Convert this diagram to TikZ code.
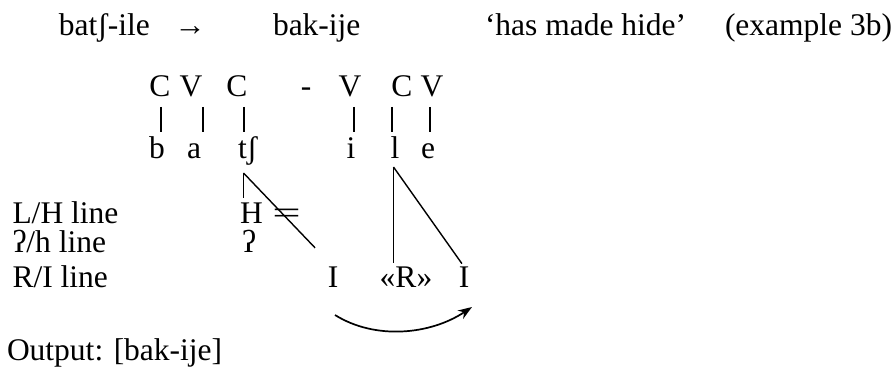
\documentclass[tikz,border=0pt]{standalone}
\usepackage{fontspec}
\setmainfont{Liberation Serif}
\usetikzlibrary{arrows.meta}
% association line hanging under a skeleton slot, shifted sideways by #3
\newcommand\assocline[3]{\draw[assoc] ([xshift=#3]#1.south) -- ([xshift=#3]#1.south |- #2.north);}
\begin{document}
\begin{tikzpicture}[x=0.5pt, y=-0.5pt,
  txt/.style={inner sep=0pt, outer sep=0pt, font=\fontsize{15.75pt}{18pt}\selectfont,
              text height=10.7pt, text depth=3.5pt},
  assoc/.style={line width=0.7pt, shorten <=1.5pt, shorten >=2.8pt},
  tierline/.style={line width=0.7pt},
  spread/.style={line width=0.85pt, -{Stealth[length=7pt, width=5pt]}}]
\useasboundingbox (0,0) rectangle (896,369);

% header line
\node[txt, anchor=base west] (src)   at (59,36)  {batʃ-ile};
\node[txt, anchor=base]      (arr)   at (190,36) {→};
\node[txt, anchor=base west] (res)   at (273,36) {bak-ije};
\node[txt, anchor=base west] (gloss) at (485,36) {‘has made hide’};
\node[txt, anchor=base west] (ex)    at (725,36) {(example 3b)};

% CV skeleton
\node[txt, anchor=base] (c1) at (160,97) {C};
\node[txt, anchor=base] (v1) at (191,97) {V};
\node[txt, anchor=base] (c2) at (237,97) {C};
\node[txt, anchor=base] (mb) at (306,97) {-};
\node[txt, anchor=base] (v2) at (350,97) {V};
\node[txt, anchor=base] (c3) at (402,97) {C};
\node[txt, anchor=base] (v3) at (432,97) {V};

% segments
\node[txt, anchor=base]      (sb)  at (157,159) {b};
\node[txt, anchor=base]      (sa)  at (194,159) {a};
\node[txt, anchor=base west] (stj) at (238,159) {tʃ};
\node[txt, anchor=base]      (si)  at (351,159) {i};
\node[txt, anchor=base]      (sl)  at (395,159) {l};
\node[txt, anchor=base]      (se)  at (428,159) {e};

% skeleton-to-segment links
\assocline{c1}{sb}{0.5pt}
\assocline{v1}{sa}{6pt}
\assocline{c2}{stj}{3.5pt}
\assocline{v2}{si}{2pt}
\assocline{c3}{sl}{-5pt}
\assocline{v3}{se}{-1pt}

% tier labels
\node[txt, anchor=base west] (lh) at (12.5,224) {L/H line};
\node[txt, anchor=base west] (gh) at (12.5,253) {ʔ/h line};
\node[txt, anchor=base west] (ri) at (12.5,288) {R/I line};

% elements
\node[txt, anchor=base west] (eH)  at (240,224) {H};
\node[txt, anchor=base]      (dl)  at (286.5,224) {\scalebox{1.6}[1]{=}};
\node[txt, anchor=base west] (eQ)  at (242,253) {ʔ};
\node[txt, anchor=base]      (eI1) at (333,288) {I};
\node[txt, anchor=base]      (eR)  at (406,288) {«R»};
\node[txt, anchor=base]      (eI2) at (464,288) {I};

% roots of the element lines under the segments
\coordinate (tjroot) at (243.5,173);
\coordinate (lroot)  at (393.5,167);

\draw[tierline, shorten >=2.3pt] (tjroot) -- (tjroot |- eH.north);
\draw[tierline, shorten >=13pt]  (tjroot) -- (eI1.north);
\draw[tierline, shorten >=1.8pt] (lroot) -- (lroot |- eR.north);
\draw[tierline, shorten >=1.8pt] (lroot) -- (eI2.north);

% spreading of I
\coordinate (arcS) at (335,315);
\coordinate (arcE) at (472,307);
\draw[spread] (arcS) .. controls (375,340) and (430,335) .. (arcE);

% output
\node[txt, anchor=base west] (outp) at (7,361) {Output: [bak-ije]};
\end{tikzpicture}
\end{document}
